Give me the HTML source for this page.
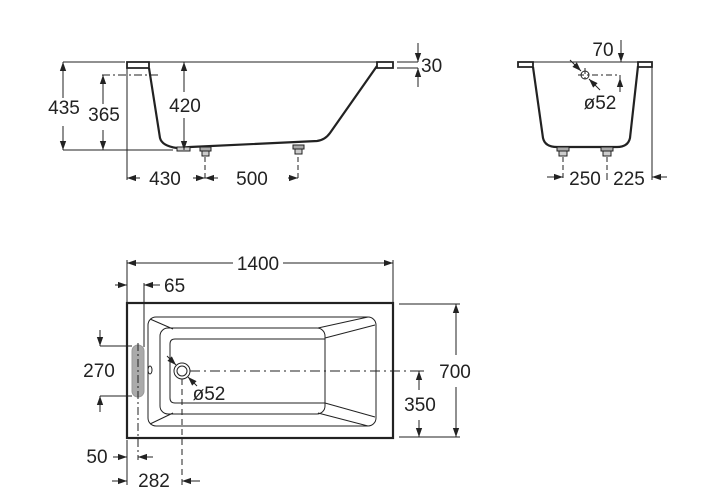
<!DOCTYPE html>
<html><head><meta charset="utf-8"><style>
html,body{margin:0;padding:0;background:#fff}
svg{display:block}
text{font-family:"Liberation Sans",sans-serif;font-size:19px;fill:#222}
</style></head><body>
<svg width="705" height="504" viewBox="0 0 705 504" xmlns="http://www.w3.org/2000/svg">
<defs>
<marker id="a" viewBox="0 0 10 10" refX="10" refY="5" markerWidth="10" markerHeight="9" markerUnits="userSpaceOnUse" orient="auto"><path d="M0,1.5 L10,5 L0,8.5 z" fill="#222"/></marker>
</defs>
<g stroke="#222" fill="none" stroke-width="1">
<!-- SIDE VIEW -->
<path d="M127,62 H393" />
<path d="M127,62 h22 v6 h-22 z" stroke-width="1.8"/>
<path d="M377,62 h16 v6 h-16 z" stroke-width="1.8"/>
<path d="M149,68 L160,138 Q162,146 177,148 L190,147 L317,141 Q325,140 330,133 L377,66" stroke-width="2.2"/>
<path d="M177,147 h13 v4 h-13 z" fill="#ccc" stroke-width="1"/>
<rect x="200" y="147" width="11" height="4" fill="#aaa"/>
<rect x="202" y="151" width="7" height="5" fill="#ccc"/>
<rect x="293" y="145" width="11" height="4" fill="#aaa"/>
<rect x="295" y="149" width="7" height="5" fill="#ccc"/>
<path d="M63,62 H125"/>
<path d="M63,150 H173"/>
<path d="M102,75 H158" stroke-dasharray="8,3,2,3"/>
<path d="M127,68 V180"/>
<path d="M205,157 V180 M298,157 V180" stroke-dasharray="5,3"/>
<path d="M397,62 H418 M397,68 H418"/>
<!-- END VIEW -->
<path d="M518,62 H652"/>
<path d="M518,62 h15 v5 h-15 z" stroke-width="1.8"/>
<path d="M638,62 h14 v5 h-14 z" stroke-width="1.8"/>
<path d="M533,67 L543,138 Q545,147 557,147 L617,147 Q628,147 630,138 L638,66" stroke-width="2.2"/>
<rect x="557" y="147" width="12" height="4" fill="#aaa"/>
<rect x="559" y="151" width="8" height="5" fill="#ccc"/>
<rect x="601" y="147" width="12" height="4" fill="#aaa"/>
<rect x="603" y="151" width="8" height="5" fill="#ccc"/>
<circle cx="585" cy="75" r="4"/>
<path d="M578,75 H620 M585,68 V82" stroke-dasharray="6,3,2,3"/>
<path d="M620,75 V92"/>
<path d="M652,67 V180"/>
<path d="M563,157 V180 M607,157 V180" stroke-dasharray="5,3"/>
<path d="M607,180 V176"/>
<!-- PLAN VIEW -->
<rect x="127" y="303" width="266" height="135" stroke-width="2.2"/>
<rect x="148" y="317" width="228" height="109" rx="8"/>
<rect x="160" y="328" width="165" height="86" rx="8"/>
<path d="M325,339 H175 Q170,339 170,344 V398 Q170,403 175,403 H325"/>
<path d="M150,319 L173,329 M150,424 L173,413"/>
<path d="M318,328 L368,317 M325,338 L375,325 M325,403 L375,417 M318,413 L368,426"/>
<rect x="132" y="345" width="12" height="52" rx="6" fill="#aaa" stroke="#999"/>
<path d="M138,343 V460" stroke-dasharray="8,3,2,3"/>
<ellipse cx="150" cy="370" rx="2" ry="4"/>
<circle cx="182" cy="371" r="8"/>
<circle cx="182" cy="371" r="5"/>
<path d="M190,371 H418" stroke-dasharray="10,4,2,4"/>
<path d="M182,379 V485" stroke-dasharray="6,4"/>
<path d="M127,260 V303 M393,260 V303 M127,440 V485 M144,283 V347"/>
<path d="M100,346 H132 M100,396 H132"/>
<path d="M399,304 H460 M399,437 H460"/>
<path d="M410,371 H424"/>
</g>
<g stroke="#222" fill="none" stroke-width="1" marker-end="url(#a)">
<path d="M63,98 V62"/><path d="M63,126 V150"/>
<path d="M103,104 V75"/><path d="M103,130 V150"/>
<path d="M184,92 V62"/><path d="M184,118 V150"/>
<path d="M140,178 H127"/><path d="M193,178 H205"/>
<path d="M218,178 H205"/><path d="M288,178 H298"/>
<path d="M418,43 V62"/><path d="M418,87 V68"/>
<path d="M620,92 V78"/>
<path d="M621,40 V62"/>
<path d="M570,60 L581,71"/><path d="M600,90 L589,79"/>
<path d="M547,177 H563"/><path d="M667,177 H652"/>
<path d="M167,356 L176,365"/><path d="M197,386 L188,377"/>
<path d="M233,263 H127"/><path d="M283,263 H393"/>
<path d="M115,285 H127"/><path d="M160,285 H144"/>
<path d="M100,330 V346"/><path d="M100,412 V396"/>
<path d="M456,355 V304"/><path d="M456,387 V437"/>
<path d="M419,390 V371"/><path d="M419,420 V437"/>
<path d="M113,457 H127"/><path d="M153,457 H138"/>
<path d="M112,481 H127"/><path d="M200,481 H182"/>
</g>
<g>
<text x="64" y="114" text-anchor="middle">435</text>
<text x="104" y="121" text-anchor="middle">365</text>
<text x="185" y="112" text-anchor="middle">420</text>
<text x="165" y="185" text-anchor="middle">430</text>
<text x="252" y="185" text-anchor="middle">500</text>
<text x="421" y="72">30</text>
<text x="603" y="56" text-anchor="middle">70</text>
<text x="600" y="109" text-anchor="middle">ø52</text>
<text x="585" y="185" text-anchor="middle">250</text>
<text x="629" y="185" text-anchor="middle">225</text>
<text x="258" y="270" text-anchor="middle">1400</text>
<text x="164" y="292">65</text>
<text x="99" y="377" text-anchor="middle">270</text>
<text x="455" y="378" text-anchor="middle">700</text>
<text x="420" y="411" text-anchor="middle">350</text>
<text x="209" y="400" text-anchor="middle">ø52</text>
<text x="97" y="463" text-anchor="middle">50</text>
<text x="154" y="487" text-anchor="middle">282</text>
</g>
</svg>
</body></html>
